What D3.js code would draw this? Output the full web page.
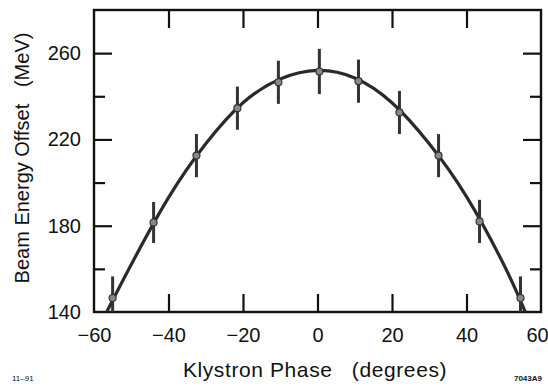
<!DOCTYPE html>
<html>
<head>
<meta charset="utf-8">
<script src="https://cdn.jsdelivr.net/npm/d3@7"></script>
<style>
  body { margin: 0; background: #fff; }
  svg text { font-family: "Liberation Sans", Arial, Helvetica, sans-serif; fill: #111; }
</style>
</head>
<body>
<svg width="548" height="388"></svg>
<script>
// measured points (phase in degrees, energy offset in MeV)
var phase  = [-55, -44, -32.5, -21.5, -10.5, 0.5, 11, 22, 32.5, 43.5, 54.5];
var energy = [146.5, 181.5, 212.5, 234.5, 246.5, 251.5, 247, 232.5, 212.5, 182, 146.5];
var errBar = [10, 9.5, 10, 10, 10, 10.5, 10, 10, 10, 10, 10];

// fitted curve
var fitPhase  = [-56.6, -50, -40, -30, -20, -10, 0, 10, 20, 30, 40, 50, 55.8];
var fitEnergy = [140, 162, 193, 218, 237, 248, 252, 248.5, 237, 218, 193.5, 162, 140];

var xTicks = [-60, -40, -20, 0, 20, 40, 60];
var yMajor = [140, 180, 220, 260];
var yMinor = [160, 200, 240];

var svg = d3.select("svg"),
    pLeft = 94, pRight = 541, pTop = 10, pBottom = 312;

var x = d3.scaleLinear().domain([-60, 60]).range([pLeft, pRight]),
    y = d3.scaleLinear().domain([140, 280]).range([pBottom, pTop]);

svg.append("defs").append("clipPath").attr("id", "clip")
  .append("rect")
  .attr("x", pLeft).attr("y", pTop)
  .attr("width", pRight - pLeft).attr("height", pBottom - pTop);

function inkTicks(g) {
  g.select(".domain").remove();
  g.selectAll(".tick line").attr("stroke", "#111").attr("stroke-width", 2.2);
}

// inner ticks (ticks point into the plot)
var inner = xTicks.slice(1, -1);
svg.append("g")
  .attr("transform", "translate(0," + pBottom + ")")
  .call(d3.axisBottom(x).tickValues(xTicks).tickSize(-18).tickPadding(16)
    .tickFormat(function(d) { return d < 0 ? "\u2212" + (-d) : d; }))
  .call(function(g) {
    inkTicks(g);
    g.selectAll(".tick line").filter(function(d) { return inner.indexOf(d) < 0; }).remove();
    g.selectAll(".tick text").style("font-size", "20px");
    // last label sits at the page edge, nudge it in
    g.selectAll(".tick text").filter(function(d) { return d === 60; }).attr("x", -4);
  });

svg.append("g")
  .attr("transform", "translate(0," + pTop + ")")
  .call(d3.axisTop(x).tickValues(inner).tickSize(-18).tickFormat(""))
  .call(inkTicks);

svg.append("g")
  .attr("transform", "translate(" + pLeft + ",0)")
  .call(d3.axisLeft(y).tickValues(yMajor).tickSize(-18).tickPadding(13))
  .call(function(g) {
    inkTicks(g);
    g.selectAll(".tick line").filter(function(d) { return d === 140; }).remove();
    g.selectAll(".tick text").style("font-size", "20px");
  });

svg.append("g")
  .attr("transform", "translate(" + pLeft + ",0)")
  .call(d3.axisLeft(y).tickValues(yMinor).tickSize(-11).tickFormat(""))
  .call(inkTicks);

svg.append("g")
  .attr("transform", "translate(" + pRight + ",0)")
  .call(d3.axisRight(y).tickValues(yMajor.slice(1)).tickSize(-18).tickFormat(""))
  .call(inkTicks);

svg.append("g")
  .attr("transform", "translate(" + pRight + ",0)")
  .call(d3.axisRight(y).tickValues(yMinor).tickSize(-11).tickFormat(""))
  .call(inkTicks);

// frame
svg.append("rect")
  .attr("x", pLeft).attr("y", pTop)
  .attr("width", pRight - pLeft).attr("height", pBottom - pTop)
  .attr("fill", "none").attr("stroke", "#111").attr("stroke-width", 2.4);

var plot = svg.append("g").attr("clip-path", "url(#clip)");

// fitted curve
var fit = fitPhase.map(function(p, i) { return [p, fitEnergy[i]]; });
var line = d3.line()
  .curve(d3.curveNatural)
  .x(function(d) { return x(d[0]); })
  .y(function(d) { return y(d[1]); });

plot.append("path")
  .datum(fit)
  .attr("d", line)
  .attr("fill", "none")
  .attr("stroke", "#2a2a2a")
  .attr("stroke-width", 3.2);

// error bars
var pts = phase.map(function(p, i) { return {p: p, e: energy[i], s: errBar[i]}; });
plot.selectAll(".err")
  .data(pts)
  .enter().append("line")
  .attr("class", "err")
  .attr("x1", function(d) { return x(d.p); })
  .attr("x2", function(d) { return x(d.p); })
  .attr("y1", function(d) { return y(d.e + d.s); })
  .attr("y2", function(d) { return y(d.e - d.s); })
  .attr("stroke", "#333")
  .attr("stroke-width", 3);

plot.selectAll(".pt")
  .data(pts)
  .enter().append("circle")
  .attr("class", "pt")
  .attr("cx", function(d) { return x(d.p); })
  .attr("cy", function(d) { return y(d.e); })
  .attr("r", 3.5)
  .attr("fill", "#888")
  .attr("stroke", "#333")
  .attr("stroke-width", 1.2);

// axis titles
svg.append("text")
  .attr("x", 315).attr("y", 377)
  .attr("text-anchor", "middle")
  .style("font-size", "21px")
  .style("letter-spacing", "0.6px")
  .attr("xml:space", "preserve")
  .text("Klystron Phase   (degrees)");

svg.append("text")
  .attr("transform", "translate(29,158) rotate(-90)")
  .attr("text-anchor", "middle")
  .style("font-size", "20px")
  .attr("xml:space", "preserve")
  .text("Beam Energy Offset   (MeV)");

svg.append("text")
  .attr("x", 12).attr("y", 381)
  .style("font-size", "8px")
  .text("11\u201391");

svg.append("text")
  .attr("x", 542).attr("y", 381)
  .attr("text-anchor", "end")
  .style("font-size", "8px")
  .style("font-weight", "bold")
  .text("7043A9");
</script>
</body>
</html>
